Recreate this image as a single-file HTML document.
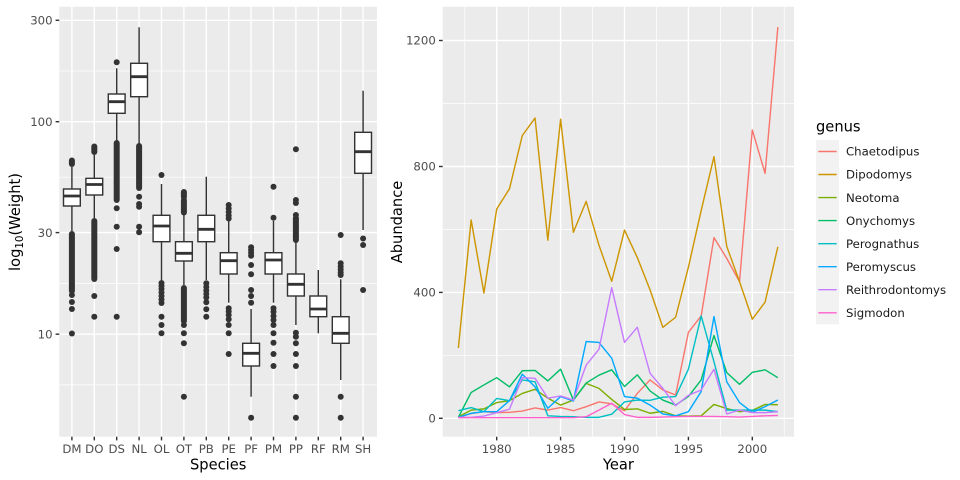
<!DOCTYPE html>
<html><head><meta charset="utf-8">
<style>
html,body{margin:0;padding:0;background:#fff;}
svg{display:block;font-family:"DejaVu Sans","Liberation Sans",sans-serif;}
</style></head>
<body>
<svg width="960" height="480" viewBox="0 0 960 480" xmlns="http://www.w3.org/2000/svg">
<rect x="0" y="0" width="960" height="480" fill="#fff"/>

<!-- ============ LEFT PANEL ============ -->
<rect x="59.3" y="6.7" width="317.7" height="430" fill="#EBEBEB"/>
<g stroke="#fff" stroke-width="0.71">
  <line x1="59.3" x2="377" y1="71" y2="71"/>
  <line x1="59.3" x2="377" y1="177.2" y2="177.2"/>
  <line x1="59.3" x2="377" y1="283.4" y2="283.4"/>
  <line x1="59.3" x2="377" y1="384.9" y2="384.9"/>
</g>
<g stroke="#fff" stroke-width="1.42">
  <line x1="59.3" x2="377" y1="20.3" y2="20.3"/>
  <line x1="59.3" x2="377" y1="121.7" y2="121.7"/>
  <line x1="59.3" x2="377" y1="232.6" y2="232.6"/>
  <line x1="59.3" x2="377" y1="334.2" y2="334.2"/>
  <line y1="6.7" y2="436.7" x1="71.9" x2="71.9"/>
  <line y1="6.7" y2="436.7" x1="94.3" x2="94.3"/>
  <line y1="6.7" y2="436.7" x1="116.7" x2="116.7"/>
  <line y1="6.7" y2="436.7" x1="139.1" x2="139.1"/>
  <line y1="6.7" y2="436.7" x1="161.5" x2="161.5"/>
  <line y1="6.7" y2="436.7" x1="183.9" x2="183.9"/>
  <line y1="6.7" y2="436.7" x1="206.3" x2="206.3"/>
  <line y1="6.7" y2="436.7" x1="228.7" x2="228.7"/>
  <line y1="6.7" y2="436.7" x1="251.1" x2="251.1"/>
  <line y1="6.7" y2="436.7" x1="273.5" x2="273.5"/>
  <line y1="6.7" y2="436.7" x1="295.9" x2="295.9"/>
  <line y1="6.7" y2="436.7" x1="318.3" x2="318.3"/>
  <line y1="6.7" y2="436.7" x1="340.7" x2="340.7"/>
  <line y1="6.7" y2="436.7" x1="363.1" x2="363.1"/>
</g>

<!-- whiskers -->
<g stroke="#333" stroke-width="1.42">
  <line x1="71.9" x2="71.9" y1="167" y2="231"/>
  <line x1="94.3" x2="94.3" y1="155" y2="218"/>
  <line x1="116.7" x2="116.7" y1="68.3" y2="141"/>
  <line x1="139.1" x2="139.1" y1="27.3" y2="145"/>
  <line x1="161.5" x2="161.5" y1="184" y2="280"/>
  <line x1="183.9" x2="183.9" y1="215" y2="285"/>
  <line x1="206.3" x2="206.3" y1="176.7" y2="280"/>
  <line x1="228.7" x2="228.7" y1="221" y2="302.7"/>
  <line x1="251.1" x2="251.1" y1="309" y2="396.7"/>
  <line x1="273.5" x2="273.5" y1="221" y2="302.7"/>
  <line x1="295.9" x2="295.9" y1="242" y2="325"/>
  <line x1="318.3" x2="318.3" y1="270" y2="333.3"/>
  <line x1="340.7" x2="340.7" y1="279.3" y2="380"/>
  <line x1="363.1" x2="363.1" y1="90.7" y2="230"/>
</g>
<!-- boxes -->
<g fill="#fff" stroke="#333" stroke-width="1.42">
  <rect x="63.5" y="189" width="16.8" height="17"/>
  <rect x="85.9" y="178.3" width="16.8" height="16.7"/>
  <rect x="108.3" y="94" width="16.8" height="19.3"/>
  <rect x="130.7" y="63.3" width="16.8" height="33.4"/>
  <rect x="153.1" y="215.3" width="16.8" height="26.4"/>
  <rect x="175.5" y="241.7" width="16.8" height="19.3"/>
  <rect x="197.9" y="215.3" width="16.8" height="26.4"/>
  <rect x="220.3" y="252.7" width="16.8" height="21.3"/>
  <rect x="242.7" y="343.3" width="16.8" height="22.7"/>
  <rect x="265.1" y="252.7" width="16.8" height="21.3"/>
  <rect x="287.5" y="274" width="16.8" height="22"/>
  <rect x="309.9" y="296" width="16.8" height="20.7"/>
  <rect x="332.3" y="316.7" width="16.8" height="26.6"/>
  <rect x="354.7" y="132.3" width="16.8" height="41"/>
</g>
<!-- medians -->
<g stroke="#333" stroke-width="2.84">
  <line x1="63.5" x2="80.3" y1="196" y2="196"/>
  <line x1="85.9" x2="102.7" y1="184.5" y2="184.5"/>
  <line x1="108.3" x2="125.1" y1="101.7" y2="101.7"/>
  <line x1="130.7" x2="147.5" y1="76.7" y2="76.7"/>
  <line x1="153.1" x2="169.9" y1="226" y2="226"/>
  <line x1="175.5" x2="192.3" y1="253.3" y2="253.3"/>
  <line x1="197.9" x2="214.7" y1="229.3" y2="229.3"/>
  <line x1="220.3" x2="237.1" y1="260.7" y2="260.7"/>
  <line x1="242.7" x2="259.5" y1="353.3" y2="353.3"/>
  <line x1="265.1" x2="281.9" y1="260" y2="260"/>
  <line x1="287.5" x2="304.3" y1="284.3" y2="284.3"/>
  <line x1="309.9" x2="326.7" y1="309" y2="309"/>
  <line x1="332.3" x2="349.1" y1="333.3" y2="333.3"/>
  <line x1="354.7" x2="371.5" y1="151.7" y2="151.7"/>
</g>

<!-- dense outlier runs -->
<g stroke="#333" stroke-width="6" stroke-linecap="round">
  <line x1="71.9" x2="71.9" y1="160.5" y2="164"/>
  <line x1="71.9" x2="71.9" y1="234" y2="291"/>
  <line x1="94.3" x2="94.3" y1="146.5" y2="152"/>
  <line x1="94.3" x2="94.3" y1="221" y2="279"/>
  <line x1="116.7" x2="116.7" y1="143" y2="200"/>
  <line x1="139.1" x2="139.1" y1="146" y2="188"/>
  <line x1="183.9" x2="183.9" y1="192" y2="197"/>
  <line x1="183.9" x2="183.9" y1="200" y2="212.5"/>
  <line x1="183.9" x2="183.9" y1="288" y2="321"/>
  <line x1="295.9" x2="295.9" y1="218" y2="240"/>
</g>
<!-- single outliers -->
<g fill="#333">
  <circle cx="71.9" cy="295" r="3"/><circle cx="71.9" cy="302" r="3"/><circle cx="71.9" cy="309" r="3"/><circle cx="71.9" cy="333.5" r="3"/>
  <circle cx="94.3" cy="296" r="3"/><circle cx="94.3" cy="316.7" r="3"/>
  <circle cx="116.7" cy="62.3" r="3"/><circle cx="116.7" cy="208.3" r="3"/><circle cx="116.7" cy="226.7" r="3"/><circle cx="116.7" cy="249" r="3"/><circle cx="116.7" cy="316.7" r="3"/>
  <circle cx="139.1" cy="196.7" r="3"/><circle cx="139.1" cy="204" r="3"/><circle cx="139.1" cy="206.7" r="3"/><circle cx="139.1" cy="226.7" r="3"/><circle cx="139.1" cy="232.3" r="3"/>
  <circle cx="161.5" cy="175" r="3"/><circle cx="161.5" cy="283" r="3"/><circle cx="161.5" cy="286" r="3"/><circle cx="161.5" cy="289" r="3"/><circle cx="161.5" cy="292.5" r="3"/><circle cx="161.5" cy="296" r="3"/><circle cx="161.5" cy="299.5" r="3"/><circle cx="161.5" cy="303" r="3"/><circle cx="161.5" cy="316.7" r="3"/><circle cx="161.5" cy="325" r="3"/><circle cx="161.5" cy="333.3" r="3"/>
  <circle cx="183.9" cy="325" r="3"/><circle cx="183.9" cy="333.3" r="3"/><circle cx="183.9" cy="343.3" r="3"/><circle cx="183.9" cy="396.7" r="3"/>
  <circle cx="206.3" cy="283.3" r="3"/><circle cx="206.3" cy="287" r="3"/><circle cx="206.3" cy="290.5" r="3"/><circle cx="206.3" cy="294" r="3"/><circle cx="206.3" cy="297.5" r="3"/><circle cx="206.3" cy="302.3" r="3"/><circle cx="206.3" cy="309.3" r="3"/><circle cx="206.3" cy="316.7" r="3"/>
  <circle cx="228.7" cy="205" r="3"/><circle cx="228.7" cy="208.5" r="3"/><circle cx="228.7" cy="212" r="3"/><circle cx="228.7" cy="215.5" r="3"/><circle cx="228.7" cy="218.5" r="3"/>
  <circle cx="228.7" cy="308.3" r="3"/><circle cx="228.7" cy="311.5" r="3"/><circle cx="228.7" cy="315" r="3"/><circle cx="228.7" cy="319.3" r="3"/><circle cx="228.7" cy="325" r="3"/><circle cx="228.7" cy="333.3" r="3"/><circle cx="228.7" cy="354" r="3"/>
  <circle cx="251.1" cy="247.3" r="3"/><circle cx="251.1" cy="250" r="3"/><circle cx="251.1" cy="252.7" r="3"/><circle cx="251.1" cy="255.7" r="3"/><circle cx="251.1" cy="265" r="3"/><circle cx="251.1" cy="274.3" r="3"/><circle cx="251.1" cy="290" r="3"/><circle cx="251.1" cy="296" r="3"/><circle cx="251.1" cy="302.7" r="3"/><circle cx="251.1" cy="417.7" r="3"/>
  <circle cx="273.5" cy="186.7" r="3"/><circle cx="273.5" cy="217.7" r="3"/>
  <circle cx="273.5" cy="308.3" r="3"/><circle cx="273.5" cy="311.7" r="3"/><circle cx="273.5" cy="316" r="3"/><circle cx="273.5" cy="320" r="3"/><circle cx="273.5" cy="325" r="3"/><circle cx="273.5" cy="333.3" r="3"/><circle cx="273.5" cy="342.7" r="3"/><circle cx="273.5" cy="354" r="3"/><circle cx="273.5" cy="366" r="3"/>
  <circle cx="295.9" cy="149.3" r="3"/><circle cx="295.9" cy="200" r="3"/><circle cx="295.9" cy="203" r="3"/><circle cx="295.9" cy="215" r="3"/>
  <circle cx="295.9" cy="332.7" r="3"/><circle cx="295.9" cy="336.7" r="3"/><circle cx="295.9" cy="343.3" r="3"/><circle cx="295.9" cy="354" r="3"/><circle cx="295.9" cy="366" r="3"/><circle cx="295.9" cy="396.7" r="3"/><circle cx="295.9" cy="417.7" r="3"/>
  <circle cx="340.7" cy="235" r="3"/><circle cx="340.7" cy="263.3" r="3"/><circle cx="340.7" cy="266.5" r="3"/><circle cx="340.7" cy="269.5" r="3"/><circle cx="340.7" cy="272.5" r="3"/><circle cx="340.7" cy="275" r="3"/><circle cx="340.7" cy="396.7" r="3"/><circle cx="340.7" cy="417.7" r="3"/>
  <circle cx="363.1" cy="238.5" r="3"/><circle cx="363.1" cy="245" r="3"/><circle cx="363.1" cy="290" r="3"/>
</g>

<!-- left axes ticks -->
<g stroke="#333" stroke-width="1.42">
  <line x1="55.6" x2="59.3" y1="20.3" y2="20.3"/>
  <line x1="55.6" x2="59.3" y1="121.7" y2="121.7"/>
  <line x1="55.6" x2="59.3" y1="232.6" y2="232.6"/>
  <line x1="55.6" x2="59.3" y1="334.2" y2="334.2"/>
  <line y1="436.7" y2="440.4" x1="71.9" x2="71.9"/>
  <line y1="436.7" y2="440.4" x1="94.3" x2="94.3"/>
  <line y1="436.7" y2="440.4" x1="116.7" x2="116.7"/>
  <line y1="436.7" y2="440.4" x1="139.1" x2="139.1"/>
  <line y1="436.7" y2="440.4" x1="161.5" x2="161.5"/>
  <line y1="436.7" y2="440.4" x1="183.9" x2="183.9"/>
  <line y1="436.7" y2="440.4" x1="206.3" x2="206.3"/>
  <line y1="436.7" y2="440.4" x1="228.7" x2="228.7"/>
  <line y1="436.7" y2="440.4" x1="251.1" x2="251.1"/>
  <line y1="436.7" y2="440.4" x1="273.5" x2="273.5"/>
  <line y1="436.7" y2="440.4" x1="295.9" x2="295.9"/>
  <line y1="436.7" y2="440.4" x1="318.3" x2="318.3"/>
  <line y1="436.7" y2="440.4" x1="340.7" x2="340.7"/>
  <line y1="436.7" y2="440.4" x1="363.1" x2="363.1"/>
</g>
<g fill="#4D4D4D" font-size="11.73" text-anchor="end">
  <text x="52.6" y="24.5">300</text>
  <text x="52.6" y="125.9">100</text>
  <text x="52.6" y="236.8">30</text>
  <text x="52.6" y="338.4">10</text>
</g>
<g fill="#4D4D4D" font-size="11.73" text-anchor="middle">
  <text x="71.9" y="453">DM</text>
  <text x="94.3" y="453">DO</text>
  <text x="116.7" y="453">DS</text>
  <text x="139.1" y="453">NL</text>
  <text x="161.5" y="453">OL</text>
  <text x="183.9" y="453">OT</text>
  <text x="206.3" y="453">PB</text>
  <text x="228.7" y="453">PE</text>
  <text x="251.1" y="453">PF</text>
  <text x="273.5" y="453">PM</text>
  <text x="295.9" y="453">PP</text>
  <text x="318.3" y="453">RF</text>
  <text x="340.7" y="453">RM</text>
  <text x="363.1" y="453">SH</text>
</g>
<text x="218.2" y="469.5" font-size="14.67" text-anchor="middle" fill="#000">Species</text>
<text transform="translate(20,222) rotate(-90)" font-size="14.67" text-anchor="middle" fill="#000">log<tspan font-size="10.3" dy="3">10</tspan><tspan dy="-3">(Weight)</tspan></text>

<!-- ============ RIGHT PANEL ============ -->
<rect x="442.7" y="6.7" width="351.3" height="430" fill="#EBEBEB"/>
<g stroke="#fff" stroke-width="0.71">
  <line x1="442.7" x2="794" y1="355.3" y2="355.3"/>
  <line x1="442.7" x2="794" y1="229.4" y2="229.4"/>
  <line x1="442.7" x2="794" y1="103.5" y2="103.5"/>
  <line y1="6.7" y2="436.7" x1="464.75" x2="464.75"/>
  <line y1="6.7" y2="436.7" x1="528.65" x2="528.65"/>
  <line y1="6.7" y2="436.7" x1="592.55" x2="592.55"/>
  <line y1="6.7" y2="436.7" x1="656.45" x2="656.45"/>
  <line y1="6.7" y2="436.7" x1="720.35" x2="720.35"/>
  <line y1="6.7" y2="436.7" x1="784.25" x2="784.25"/>
</g>
<g stroke="#fff" stroke-width="1.42">
  <line x1="442.7" x2="794" y1="418.3" y2="418.3"/>
  <line x1="442.7" x2="794" y1="292.4" y2="292.4"/>
  <line x1="442.7" x2="794" y1="166.5" y2="166.5"/>
  <line x1="442.7" x2="794" y1="40.5" y2="40.5"/>
  <line y1="6.7" y2="436.7" x1="496.7" x2="496.7"/>
  <line y1="6.7" y2="436.7" x1="560.6" x2="560.6"/>
  <line y1="6.7" y2="436.7" x1="624.5" x2="624.5"/>
  <line y1="6.7" y2="436.7" x1="688.4" x2="688.4"/>
  <line y1="6.7" y2="436.7" x1="752.3" x2="752.3"/>
</g>

<g transform="matrix(12.78 0 0 -0.3148 458.36 418.3)" fill="none" stroke-width="1.42" stroke-linejoin="round">
  <polyline vector-effect="non-scaling-stroke" stroke="#F8766D" points="0,3 1,15 2,21 3,18 4,19 5,23 6,33 7,26 8,34 9,24 10,37 11,52 12,46 13,24 14,79 15,122 16,90 17,74 18,273 19,325 20,574 21,508 22,434 23,916 24,778 25,1243"/>
  <polyline vector-effect="non-scaling-stroke" stroke="#CD9600" points="0,223 1,630 2,398 3,665 4,729 5,898 6,954 7,566 8,950 9,591 10,689 11,550 12,435 13,598 14,511 15,408 16,289 17,321 18,480 19,660 20,831 21,546 22,434 23,315 24,369 25,545"/>
  <polyline vector-effect="non-scaling-stroke" stroke="#7CAE00" points="0,5 1,26 2,30 3,50 4,56 5,79 6,92 7,64 8,42 9,58 10,111 11,95 12,60 13,28 14,30 15,16 16,22 17,8 18,7 19,8 20,44 21,31 22,21 23,25 24,44 25,43"/>
  <polyline vector-effect="non-scaling-stroke" stroke="#00BE67" points="0,3 1,82 2,106 3,129 4,100 5,151 6,152 7,119 8,156 9,58 10,112 11,137 12,154 13,101 14,138 15,87 16,58 17,42 18,69 19,122 20,263 21,145 22,108 23,146 24,154 25,129"/>
  <polyline vector-effect="non-scaling-stroke" stroke="#00BFC4" points="0,24 1,34 2,21 3,63 4,56 5,122 6,116 7,8 8,6 9,5 10,3 11,3 12,13 13,52 14,58 15,57 16,67 17,69 18,156 19,325 20,180 21,26 22,26 23,26 24,26 25,21"/>
  <polyline vector-effect="non-scaling-stroke" stroke="#00A9FF" points="0,3 1,16 2,21 3,21 4,56 5,140 6,100 7,32 8,69 9,55 10,244 11,241 12,191 13,69 14,64 15,42 16,14 17,8 18,21 19,85 20,323 21,116 22,50 23,19 24,37 25,58"/>
  <polyline vector-effect="non-scaling-stroke" stroke="#C77CFF" points="0,3 1,3 2,7 3,18 4,29 5,129 6,127 7,64 8,71 9,58 10,169 11,219 12,415 13,241 14,289 15,143 16,95 17,40 18,73 19,90 20,156 21,14 22,26 23,18 24,18 25,21"/>
  <polyline vector-effect="non-scaling-stroke" stroke="#FF61CC" points="0,2 1,2 2,2 3,2 4,2 5,2 6,2 7,2 8,2 9,2 10,5 11,26 12,48 13,12 14,3 15,3 16,4 17,5 18,6 19,6 20,6 21,5 22,4 23,6 24,8 25,9"/>
</g>

<!-- right axes -->
<g stroke="#333" stroke-width="1.42">
  <line x1="439" x2="442.7" y1="418.3" y2="418.3"/>
  <line x1="439" x2="442.7" y1="292.4" y2="292.4"/>
  <line x1="439" x2="442.7" y1="166.5" y2="166.5"/>
  <line x1="439" x2="442.7" y1="40.5" y2="40.5"/>
  <line y1="436.7" y2="440.4" x1="496.7" x2="496.7"/>
  <line y1="436.7" y2="440.4" x1="560.6" x2="560.6"/>
  <line y1="436.7" y2="440.4" x1="624.5" x2="624.5"/>
  <line y1="436.7" y2="440.4" x1="688.4" x2="688.4"/>
  <line y1="436.7" y2="440.4" x1="752.3" x2="752.3"/>
</g>
<g fill="#4D4D4D" font-size="11.73" text-anchor="end">
  <text x="435.8" y="422.5">0</text>
  <text x="435.8" y="296.6">400</text>
  <text x="435.8" y="170.7">800</text>
  <text x="435.8" y="44.7">1200</text>
</g>
<g fill="#4D4D4D" font-size="11.73" text-anchor="middle">
  <text x="496.7" y="453">1980</text>
  <text x="560.6" y="453">1985</text>
  <text x="624.5" y="453">1990</text>
  <text x="688.4" y="453">1995</text>
  <text x="752.3" y="453">2000</text>
</g>
<text x="618.4" y="469.5" font-size="14.67" text-anchor="middle" fill="#000">Year</text>
<text transform="translate(402,222) rotate(-90)" font-size="14.67" text-anchor="middle" fill="#000">Abundance</text>

<!-- legend -->
<text x="816" y="131.7" font-size="14.67" fill="#000">genus</text>
<rect x="816" y="140" width="23" height="184.3" fill="#F2F2F2"/>
<g stroke-width="1.42">
  <line x1="818.3" x2="836.7" y1="151.5" y2="151.5" stroke="#F8766D"/>
  <line x1="818.3" x2="836.7" y1="174.5" y2="174.5" stroke="#CD9600"/>
  <line x1="818.3" x2="836.7" y1="197.6" y2="197.6" stroke="#7CAE00"/>
  <line x1="818.3" x2="836.7" y1="220.6" y2="220.6" stroke="#00BE67"/>
  <line x1="818.3" x2="836.7" y1="243.7" y2="243.7" stroke="#00BFC4"/>
  <line x1="818.3" x2="836.7" y1="266.7" y2="266.7" stroke="#00A9FF"/>
  <line x1="818.3" x2="836.7" y1="289.7" y2="289.7" stroke="#C77CFF"/>
  <line x1="818.3" x2="836.7" y1="312.8" y2="312.8" stroke="#FF61CC"/>
</g>
<g fill="#1A1A1A" font-size="11.73">
  <text x="846" y="155.7">Chaetodipus</text>
  <text x="846" y="178.7">Dipodomys</text>
  <text x="846" y="201.8">Neotoma</text>
  <text x="846" y="224.8">Onychomys</text>
  <text x="846" y="247.9">Perognathus</text>
  <text x="846" y="270.9">Peromyscus</text>
  <text x="846" y="293.9">Reithrodontomys</text>
  <text x="846" y="317">Sigmodon</text>
</g>
</svg>
</body></html>
